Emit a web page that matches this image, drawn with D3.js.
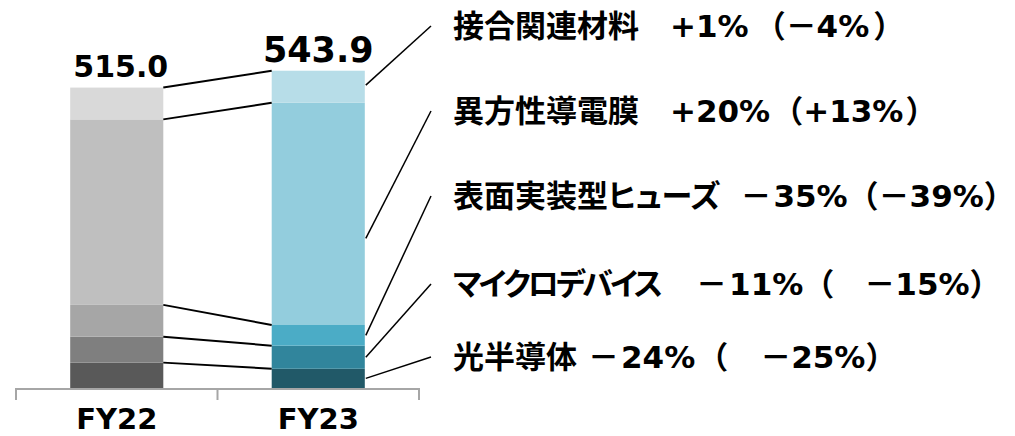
<!DOCTYPE html>
<html>
<head>
<meta charset="utf-8">
<script src="https://cdn.jsdelivr.net/npm/d3@7"></script>
<style>
  body { margin: 0; background: #fff; }
  text { font-family: "DejaVu Sans", "Noto Sans CJK JP", sans-serif; font-weight: bold; }
  .name { font-feature-settings: "palt" 1; }
</style>
</head>
<body>
<svg id="chart"></svg>
<script>
// segments listed bottom -> top
const categories = ["光半導体", "マイクロデバイス", "表面実装型ヒューズ", "異方性導電膜", "接合関連材料"];
const years = ["FY22", "FY23"];
const fy22 = [43.5, 44.5, 54.5, 318.0, 54.5];
const fy23 = [33.0, 39.6, 35.4, 381.0, 54.9];
const totals = ["515.0", "543.9"];
const growth = ["－24%", "－11%", "－35%", "+20%", "+1%"];
const growthLocal = ["－25%", "－15%", "－39%", "+13%", "－4%"];

const width = 1015;
const height = 436;

const grays = ["#595959", "#7f7f7f", "#a6a6a6", "#bfbfbf", "#d9d9d9"];
const blues = ["#215968", "#31859c", "#4bacc6", "#93cddd", "#b7dde8"];

const svg = d3.select("#chart")
    .attr("width", width)
    .attr("height", height);

const x = d3.scaleBand()
    .domain(years)
    .range([16, 419])
    .paddingInner(0.538)
    .paddingOuter(0.269);

const y = d3.scaleLinear()
    .domain([0, 600])
    .range([388, 38]);

// stack values per year
const stacks = [fy22, fy23].map((vals, yi) => {
    let acc = 0;
    return vals.map((v, i) => {
        const d = { year: years[yi], cat: categories[i], i, y0: acc, y1: acc + v };
        acc += v;
        return d;
    });
});

stacks.forEach((stack, yi) => {
    svg.selectAll(".seg" + yi)
        .data(stack)
        .join("rect")
        .attr("class", "seg" + yi)
        .attr("x", d => x(d.year))
        .attr("y", d => y(d.y1))
        .attr("width", x.bandwidth())
        .attr("height", d => y(d.y0) - y(d.y1))
        .attr("fill", d => (yi === 0 ? grays : blues)[d.i]);
});

// connectors between the two bars (top of every segment)
svg.selectAll(".conn")
    .data(categories.map((c, i) => i))
    .join("line")
    .attr("class", "conn")
    .attr("x1", x("FY22") + x.bandwidth())
    .attr("y1", i => y(stacks[0][i].y1))
    .attr("x2", x("FY23"))
    .attr("y2", i => y(stacks[1][i].y1))
    .attr("stroke", "#000")
    .attr("stroke-width", 2);

// totals
svg.selectAll(".total")
    .data(years)
    .join("text")
    .attr("class", "total")
    .attr("x", (d, i) => x(d) + x.bandwidth() / 2 + (i === 0 ? 4 : 0))
    .attr("y", (d, i) => y(d3.sum(i === 0 ? fy22 : fy23)) - (i === 0 ? 11 : 9))
    .attr("text-anchor", "middle")
    .attr("font-size", (d, i) => i === 0 ? 30 : 35)
    .attr("fill", "#000")
    .text((d, i) => totals[i]);

// x axis
const axis = svg.append("g");
axis.append("line")
    .attr("x1", 16).attr("x2", 419)
    .attr("y1", y(0) + 1).attr("y2", y(0) + 1)
    .attr("stroke", "#a6a6a6").attr("stroke-width", 2);
axis.selectAll(".tick")
    .data([16, 16 + x.step(), 16 + 2 * x.step()])
    .join("line")
    .attr("class", "tick")
    .attr("x1", d => d).attr("x2", d => d)
    .attr("y1", y(0)).attr("y2", y(0) + 12)
    .attr("stroke", "#a6a6a6").attr("stroke-width", 2);
axis.selectAll(".cat")
    .data(years)
    .join("text")
    .attr("class", "cat")
    .attr("x", d => x(d) + x.bandwidth() / 2)
    .attr("y", 429)
    .attr("text-anchor", "middle")
    .attr("font-size", 29)
    .attr("fill", "#000")
    .text(d => d);

// labels on the right (index follows categories, bottom -> top)
const labelY = [357, 284, 196, 111, 26];
const nameSpacing = [0, -3, 0, 0, 0];
const gapName = [11, 36, 20, 31, 31];
const gapParen = [2, 0, 0, 2, 6];
const innerGap = [32, 30, 0, 0, 0];
const closeGap = [0, 0, 0, 2, 4];
const anchorAt = [0.5, 0.5, 0.5, 0.39, 0.55];
const labelX = 453;
const fs = 31;

svg.selectAll(".leader")
    .data(stacks[1])
    .join("line")
    .attr("class", "leader")
    .attr("x1", x("FY23") + x.bandwidth() + 1)
    .attr("y1", d => y(d.y0 + (d.y1 - d.y0) * anchorAt[d.i]))
    .attr("x2", 431)
    .attr("y2", d => labelY[d.i])
    .attr("stroke", "#000")
    .attr("stroke-width", 1.5);

categories.forEach((name, i) => {
    const row = svg.append("g").attr("class", "lbl");
    const t1 = row.append("text")
        .attr("class", "name")
        .attr("x", labelX).attr("y", labelY[i]).attr("dy", "0.36em")
        .attr("font-size", fs).attr("fill", "#000")
        .attr("letter-spacing", nameSpacing[i])
        .text(name);
    const x2 = labelX + t1.node().getComputedTextLength() + gapName[i];
    const t2 = row.append("text")
        .attr("x", x2).attr("y", labelY[i]).attr("dy", "0.36em")
        .attr("font-size", fs).attr("fill", "#000");
    const sign = growth[i].charAt(0);
    t2.append("tspan").text(sign);
    t2.append("tspan").attr("dx", sign === "－" ? 2 : 0).text(growth[i].slice(1));
    const x3 = x2 + t2.node().getBBox().width + gapParen[i];
    const t3 = row.append("text")
        .attr("x", x3).attr("y", labelY[i]).attr("dy", "0.36em")
        .attr("font-size", fs).attr("fill", "#000");
    t3.append("tspan").text("（");
    t3.append("tspan").attr("dx", innerGap[i]).text(growthLocal[i]);
    t3.append("tspan").attr("dx", closeGap[i]).text("）");
});
</script>
</body>
</html>
